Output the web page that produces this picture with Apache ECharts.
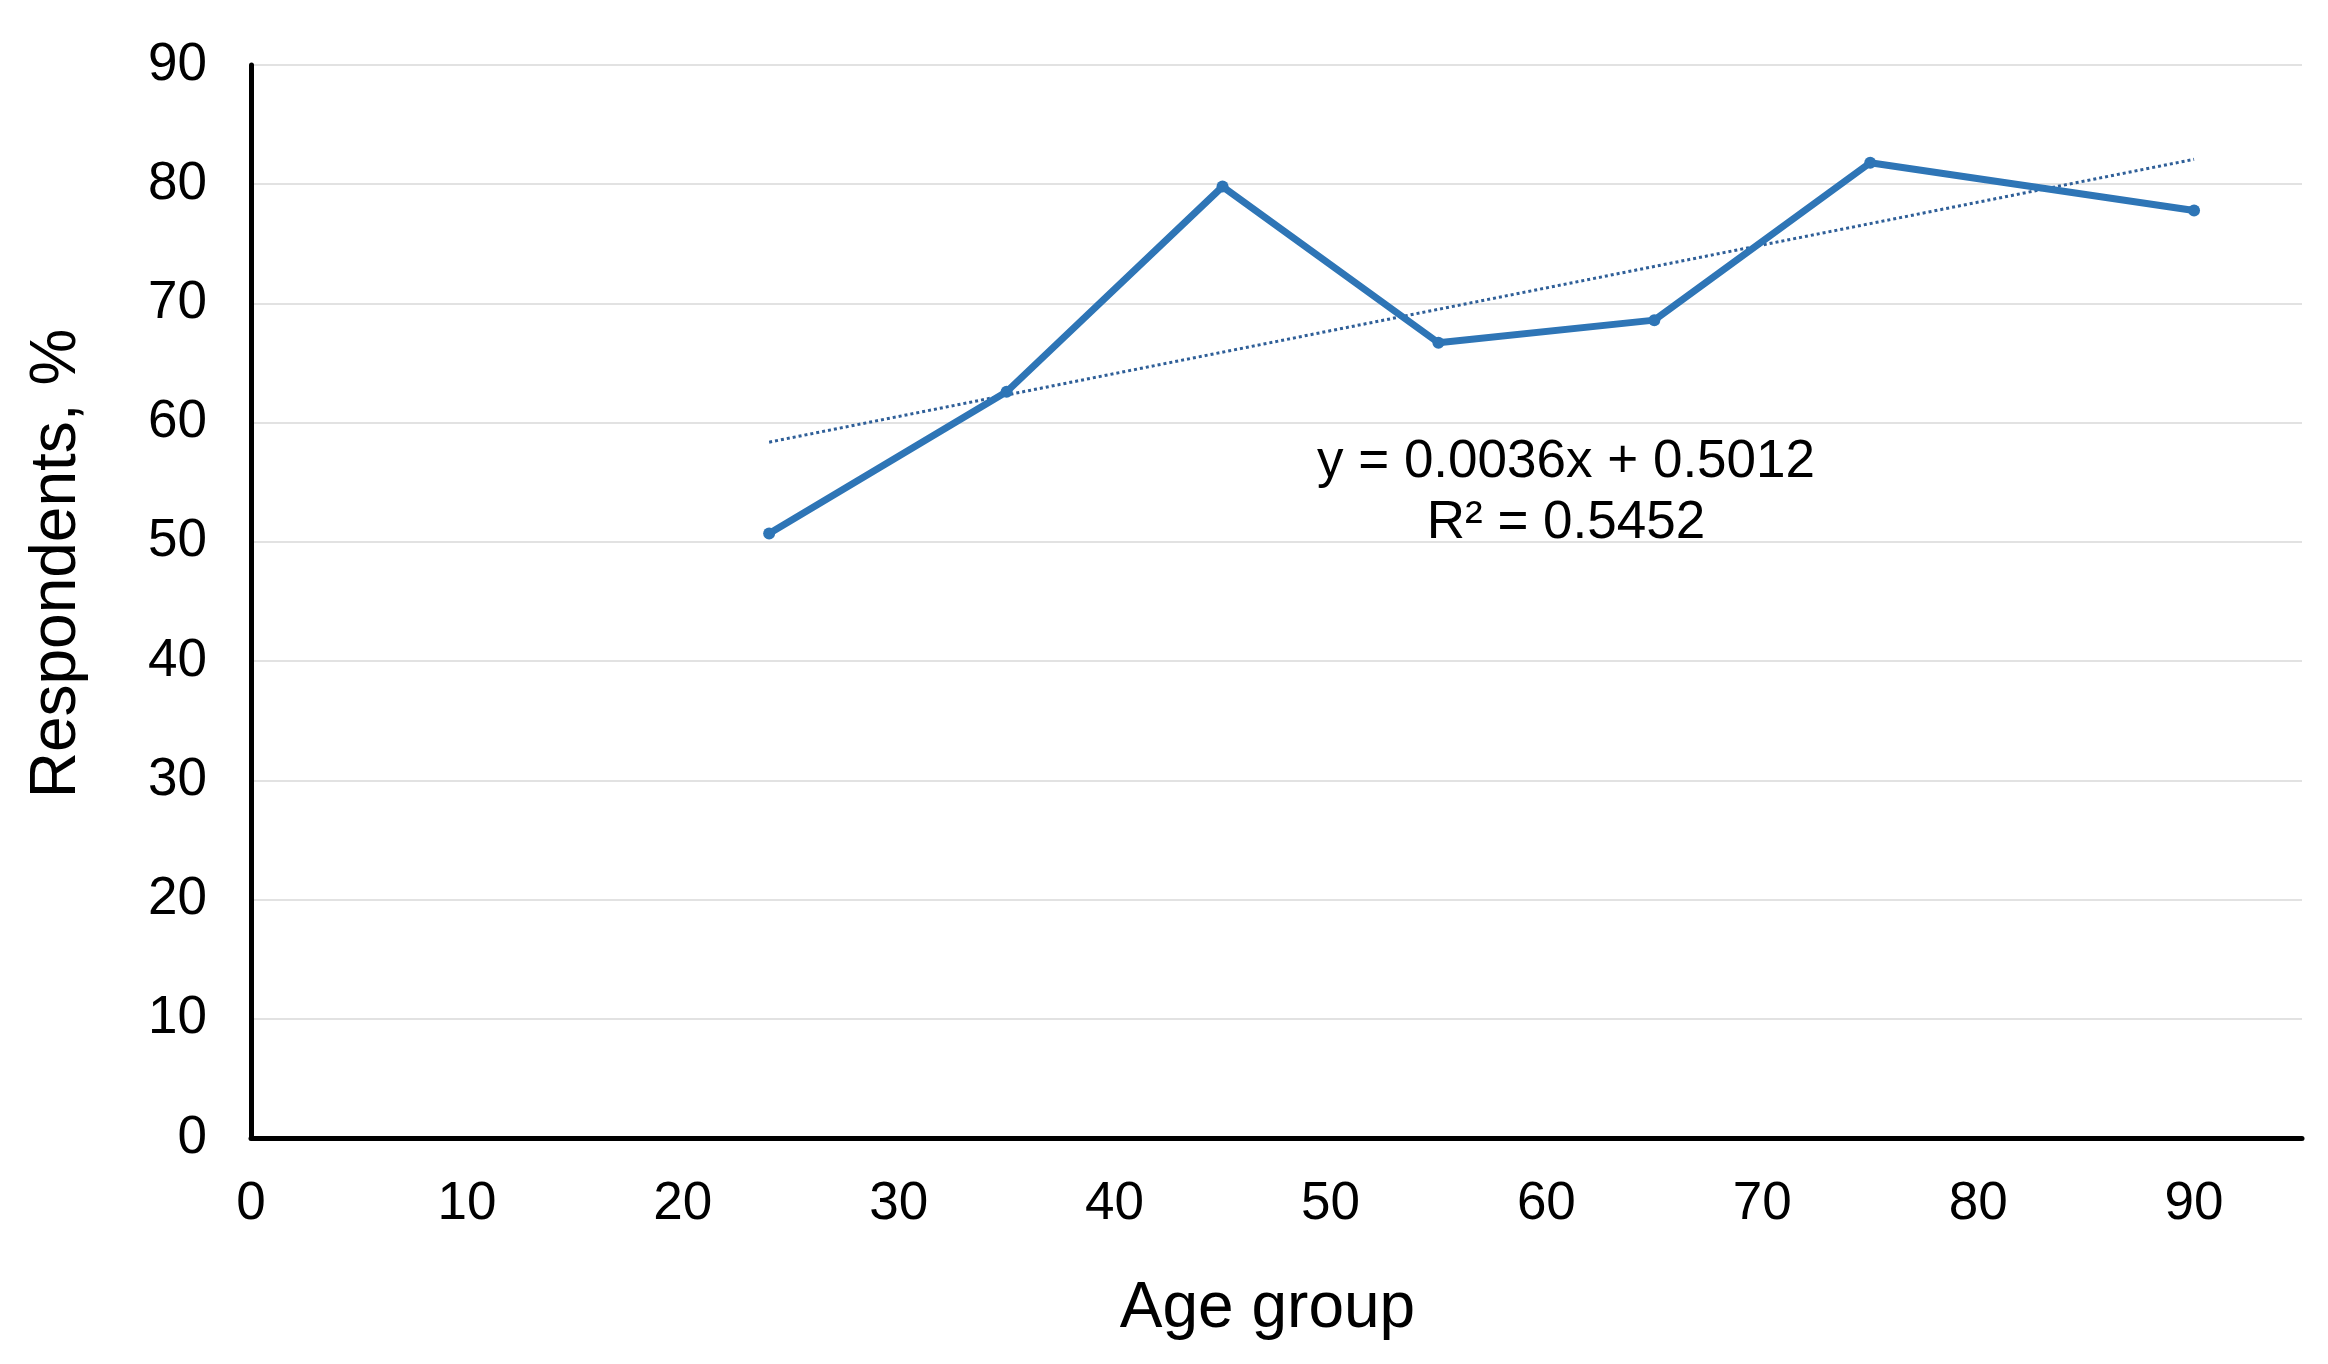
<!DOCTYPE html>
<html>
<head>
<meta charset="utf-8">
<script src="https://cdn.jsdelivr.net/npm/echarts@6/dist/echarts.min.js"></script>
<style>
html,body{margin:0;padding:0;background:#fff;}
#chart{width:2328px;height:1364px;}
</style>
</head>
<body>
<div id="chart"></div>
<script>
// Data
const ageGroups = [24, 35, 45, 55, 65, 75, 90];
const respondents = [50.7, 62.6, 79.8, 66.7, 68.6, 81.8, 77.8];
const xTicks = [0, 10, 20, 30, 40, 50, 60, 70, 80, 90];
const yTicks = [0, 10, 20, 30, 40, 50, 60, 70, 80, 90];
const equationLines = ['y = 0.0036x + 0.5012', 'R\u00b2 = 0.5452'];

// Least-squares linear trend of the data (as the spreadsheet trendline)
function linearFit(xs, ys) {
  const n = xs.length;
  const mx = xs.reduce((a, b) => a + b, 0) / n;
  const my = ys.reduce((a, b) => a + b, 0) / n;
  let sxy = 0, sxx = 0;
  for (let i = 0; i < n; i++) { sxy += (xs[i] - mx) * (ys[i] - my); sxx += (xs[i] - mx) * (xs[i] - mx); }
  const slope = sxy / sxx;
  return { slope, intercept: my - slope * mx };
}
const fit = linearFit(ageGroups, respondents);
const trendX = [ageGroups[0], ageGroups[ageGroups.length - 1]];
const trendData = trendX.map(x => [x, fit.intercept + fit.slope * x]);
const lineData = ageGroups.map((x, i) => [x, respondents[i]]);

const FONT = '"Liberation Sans", Arial, sans-serif';
const chart = echarts.init(document.getElementById('chart'), null, { renderer: 'canvas' });
chart.setOption({
  backgroundColor: '#ffffff',
  animation: false,
  grid: { left: 251, right: 26, top: 65, bottom: 226 },
  xAxis: {
    type: 'value',
    min: xTicks[0], max: 95, interval: 10,
    name: 'Age group',
    nameLocation: 'middle',
    nameGap: 139,
    nameTextStyle: { fontFamily: FONT, fontSize: 64, color: '#000', padding: [0, 18, 0, 0] },
    axisLine: { show: true, onZero: false, lineStyle: { color: '#000', width: 5 } },
    axisTick: { show: false },
    splitLine: { show: false },
    axisLabel: {
      fontFamily: FONT, fontSize: 53, color: '#000', margin: 40,
      showMaxLabel: false,
      formatter: v => xTicks.indexOf(v) >= 0 ? String(v) : ''
    }
  },
  yAxis: {
    type: 'value',
    min: yTicks[0], max: yTicks[yTicks.length - 1], interval: 10,
    name: 'Respondents, %',
    nameLocation: 'middle',
    nameGap: 162,
    nameTextStyle: { fontFamily: FONT, fontSize: 64, color: '#000', padding: [0, 0, 0, 76] },
    axisLine: { show: true, lineStyle: { color: '#000', width: 5 } },
    axisTick: { show: false },
    splitLine: { show: true, lineStyle: { color: '#d9d9d9', width: 1.5 } },
    axisLabel: { fontFamily: FONT, fontSize: 53, color: '#000', margin: 44 }
  },
  series: [
    {
      name: 'Trend',
      type: 'line',
      data: trendData,
      symbol: 'none',
      lineStyle: { color: '#2f5f98', width: 3, type: 'dotted' },
      z: 2
    },
    {
      name: 'Respondents',
      type: 'line',
      data: lineData,
      symbol: 'circle',
      symbolSize: 12,
      itemStyle: { color: '#2e75b6' },
      lineStyle: { color: '#2e75b6', width: 7 },
      z: 3
    }
  ],
  graphic: [
    {
      type: 'text', x: 1566, y: 462, z: 10,
      style: { text: equationLines[0], fontFamily: FONT, fontSize: 53, fill: '#000', align: 'center', verticalAlign: 'middle' }
    },
    {
      type: 'text', x: 1566, y: 523, z: 10,
      style: { text: equationLines[1], fontFamily: FONT, fontSize: 53, fill: '#000', align: 'center', verticalAlign: 'middle' }
    }
  ]
});
</script>
</body>
</html>
